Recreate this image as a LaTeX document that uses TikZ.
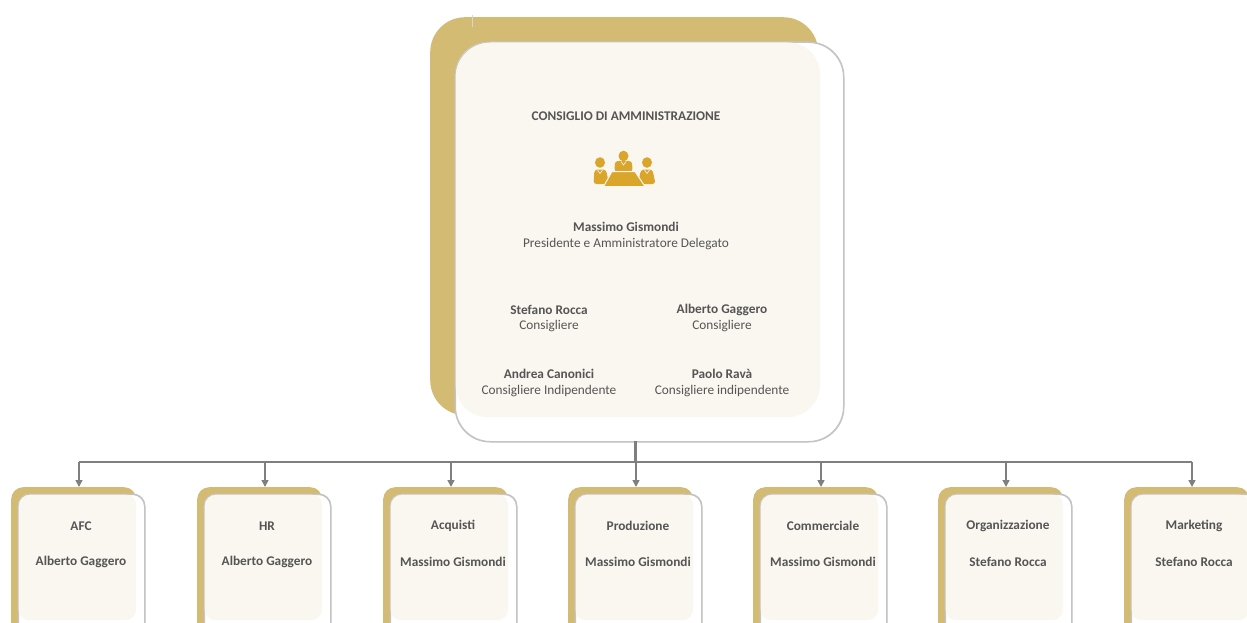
\documentclass[tikz,border=0pt]{standalone}
\usepackage{fontspec}
\setmainfont{Carlito}
\usetikzlibrary{arrows.meta}
\definecolor{goldback}{HTML}{D4BB73}
\definecolor{creamfill}{HTML}{FAF7F0}
\definecolor{outlinegray}{HTML}{C4C4C4}
\definecolor{linkgray}{HTML}{7F7F7F}
\definecolor{textgray}{HTML}{555555}
\definecolor{icongold}{HTML}{D9A52B}
\tikzset{
  backcard/.style={rectangle, fill=goldback, draw=none, anchor=north west, inner sep=0pt},
  outcard/.style={rectangle, fill=white, draw=outlinegray, line width=1pt, anchor=north west, inner sep=0pt},
  creamcard/.style={rectangle, fill=creamfill, draw=none, anchor=north west, inner sep=0pt},
  txt/.style={text=textgray, font=\fontsize{13.3}{16}\selectfont, inner sep=0pt},
  btxt/.style={txt, font=\fontsize{13.3}{16}\selectfont\bfseries},
  link/.style={draw=linkgray, line width=1.5pt},
  arr/.style={link, -{Triangle[length=7pt,width=7pt]}}
}
\begin{document}
\begin{tikzpicture}[x=1pt,y=-1pt]
\useasboundingbox (0,0) rectangle (1247,623);
\fill[white] (0,0) rectangle (1247,623);
% top card
\node[backcard, rounded corners=35pt, minimum width=388pt, minimum height=398pt] (cdaback) at (430,17) {};
\node[outcard, rounded corners=35pt, minimum width=388pt, minimum height=399pt] (cdaout) at (455,42) {};
\node[creamcard, rounded corners=33pt, minimum width=365pt, minimum height=375pt] (cdacream) at (455,42) {};
\draw[outlinegray, line width=1pt, rounded corners=35pt] (cdaout.north west) rectangle (cdaout.south east);
\draw[outlinegray!70, line width=0.6pt] (472,15) -- (472,27);
% texts top card
\node[btxt] (cdatitle) at (626,116) {CONSIGLIO DI AMMINISTRAZIONE};
\node[btxt] (pres) at (626,227) {Massimo Gismondi};
\node[txt] (presrole) at (626,244) {Presidente e Amministratore Delegato};
\node[btxt] (m1) at (549,310) {Stefano Rocca};
\node[txt] (m1r) at (549,326) {Consigliere};
\node[btxt] (m2) at (722,310) {Alberto Gaggero};
\node[txt] (m2r) at (722,326) {Consigliere};
\node[btxt] (m3) at (549,374) {Andrea Canonici};
\node[txt] (m3r) at (549,391) {Consigliere Indipendente};
\node[btxt] (m4) at (722,374) {Paolo Ravà};
\node[txt] (m4r) at (722,391) {Consigliere indipendente};
% icon
\begin{scope}[icongold]
  \fill (600,162.5) ellipse (5pt and 5.3pt);
  \fill[rounded corners=3pt] (593.5,184) -- (594.5,169.5) -- (606,169.5) -- (609,184) -- cycle;
  \fill (647,162.5) ellipse (5pt and 5.3pt);
  \fill[rounded corners=3pt] (638,184) -- (641,169.5) -- (652.5,169.5) -- (655.5,184) -- cycle;
  \fill (623.5,156) ellipse (5pt and 5.3pt);
  \fill[rounded corners=3pt] (614.5,172) -- (615,161) -- (632,161) -- (632.5,172) -- cycle;
  \draw[creamfill, line width=0.6pt] (597.5,170) -- (600,173.5) -- (602.5,170);
  \draw[creamfill, line width=0.6pt] (644.5,170) -- (647,173.5) -- (649.5,170);
  \draw[creamfill, line width=0.6pt] (621,161.5) -- (623.5,165) -- (626,161.5);
  \filldraw[draw=creamfill, line width=1pt] (612,171.5) -- (635,171.5) -- (645,186.5) -- (603.5,186.5) -- cycle;
\end{scope}
% bus
\coordinate (cdabottom) at (635,441);
\coordinate (bus) at (635,462);
% bottom cards
\foreach \a/\t/\n/\i in {79/AFC/Alberto Gaggero/1, 265/HR/Alberto Gaggero/2, 451/Acquisti/Massimo Gismondi/3, 636/Produzione/Massimo Gismondi/4, 821/Commerciale/Massimo Gismondi/5, 1006/Organizzazione/Stefano Rocca/6, 1192/Marketing/Stefano Rocca/7}{
  \node[backcard, rounded corners=12pt, minimum width=125pt, minimum height=160pt] (g\i) at (\a-68,487) {};
  \node[outcard, rounded corners=12pt, minimum width=126pt, minimum height=160pt] (o\i) at (\a-61,494) {};
  \node[creamcard, rounded corners=11pt, minimum width=118pt, minimum height=126pt] (c\i) at (\a-61,494) {};
  \draw[outlinegray, line width=1pt, rounded corners=12pt] (o\i.south west) -- (o\i.north west) -- (o\i.north east) -- (o\i.south east);
  \node[btxt] (t\i) at (\a+2,526) {\t};
  \node[btxt] (n\i) at (\a+2,561.5) {\n};
  \coordinate (tip\i) at (\a,487);
}
\draw[link] (cdabottom) -- (bus);
\draw[link] (bus -| tip1) -- (bus -| tip7);
\foreach \i in {1,2,3,5,6,7}{
  \draw[arr] (bus -| tip\i) -- (tip\i);
}
\draw[arr] (cdabottom -| tip4) -- (tip4);
\end{tikzpicture}
\end{document}
